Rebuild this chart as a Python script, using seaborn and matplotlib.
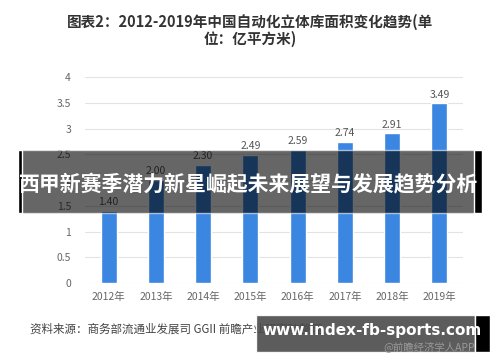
import matplotlib
matplotlib.use("Agg")
import matplotlib.pyplot as plt
import seaborn as sns
import pandas as pd
from matplotlib.patches import Rectangle

years = ["2012年", "2013年", "2014年", "2015年", "2016年", "2017年", "2018年", "2019年"]
values = [1.40, 2.00, 2.30, 2.49, 2.59, 2.74, 2.91, 3.49]
yticks = [0, 0.5, 1, 1.5, 2, 2.5, 3, 3.5, 4]
ytick_labels = ["0", "0.5", "1", "1.5", "2", "2.5", "3", "3.5", "4"]

sns.set_theme(style="white")
plt.rcParams['font.family'] = ['Noto Sans CJK SC', 'DejaVu Sans']

df = pd.DataFrame({"year": years, "value": values})
fig = plt.figure(figsize=(5, 3.62), dpi=100)
ax = fig.add_axes([0.17, 0.218, 0.756, 0.569])
sns.barplot(data=df, x="year", y="value", color="#3a86e0", width=0.34, ax=ax, saturation=1, zorder=3)
ax.set_ylim(0, 4)
ax.set_yticks(yticks)
ax.set_yticklabels(ytick_labels)
ax.yaxis.grid(True, color="#e3e3e3", linewidth=0.8, zorder=0)
ax.set_xlabel("")
ax.set_ylabel("")
for s in ax.spines.values():
    s.set_visible(False)
ax.tick_params(axis="both", length=0, colors="#666666", labelsize=7.5)
ax.tick_params(axis="x", pad=6)
ax.tick_params(axis="y", pad=10)
for i, v in enumerate(values):
    ax.text(i, v + 0.07, f"{v:.2f}", ha="center", va="bottom", fontsize=7.5, color="#555555")

fig.text(0.5, 0.94, "图表2：2012-2019年中国自动化立体库面积变化趋势(单", ha="center", va="center",
         fontsize=10.5, fontweight="bold", color="#333333")
fig.text(0.5, 0.893, "位：亿平方米)", ha="center", va="center",
         fontsize=10.5, fontweight="bold", color="#333333")

# banner overlay
fig.patches.append(Rectangle((20/500, 1-213/362), 462/500, 63/362, transform=fig.transFigure,
                             facecolor="black", alpha=0.6, zorder=10))
fig.patches.append(Rectangle((18/500, 1-213/362), 4/500, 63/362, transform=fig.transFigure,
                             facecolor="black", zorder=11))
fig.patches.append(Rectangle((474/500, 1-213/362), 8/500, 63/362, transform=fig.transFigure,
                             facecolor="black", zorder=11))
fig.text(249/500, 1-185/362, "西甲新赛季潜力新星崛起未来展望与发展趋势分析", ha="center", va="center",
         fontsize=15, fontweight="bold", color="white", zorder=12)

fig.text(30/500, 1-329/362, "资料来源：商务部流通业发展司 GGII 前瞻产业研究院整理", ha="left", va="center",
         fontsize=8.3, color="#444444")

fig.patches.append(Rectangle((256/500, 1-352/362), 219/500, 37/362, transform=fig.transFigure,
                             facecolor="#4a4a4a", alpha=0.9, zorder=10))
fig.patches.append(Rectangle((475/500, 1-352/362), 15/500, 37/362, transform=fig.transFigure,
                             facecolor="black", zorder=11))
fig.text(372/500, 1-330/362, "www.index-fb-sports.com", ha="center", va="center",
         fontsize=11, fontweight="bold", color="white", family="DejaVu Sans", zorder=12)
fig.text(475/500, 1-347/362, "@前瞻经济学人APP", ha="right", va="center",
         fontsize=7.5, color="#999999", zorder=12)

fig.savefig("out.png", dpi=100)
